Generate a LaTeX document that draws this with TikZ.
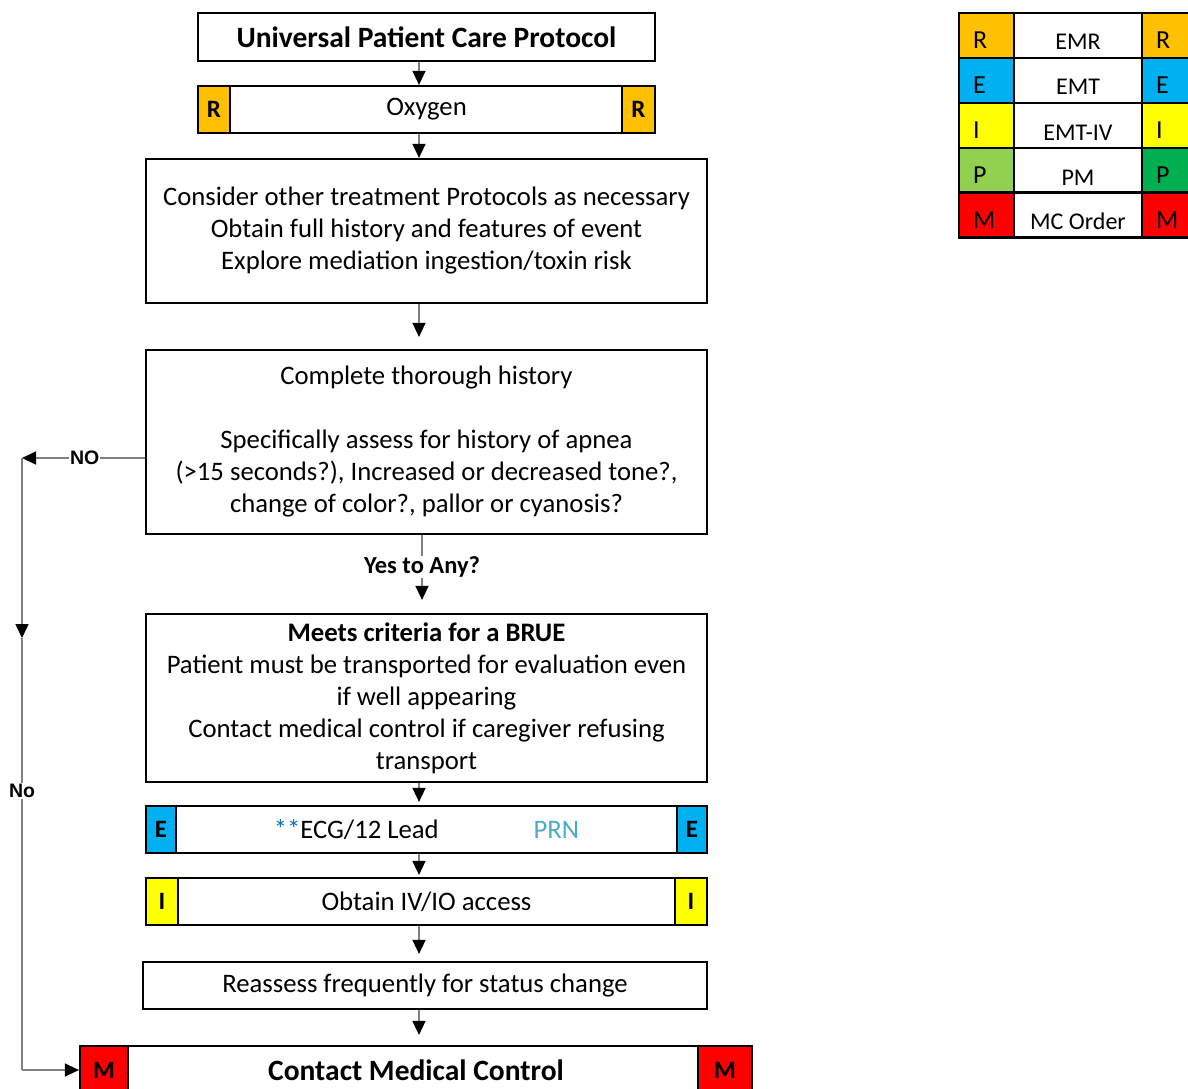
\documentclass[tikz,border=0pt]{standalone}
\usepackage{fontspec}
\setmainfont{Carlito}
\newfontfamily\arialfont{Liberation Sans}
\usetikzlibrary{arrows.meta}
\definecolor{cR}{HTML}{FFC000}
\definecolor{cE}{HTML}{00B0F0}
\definecolor{cI}{HTML}{FFFF00}
\definecolor{cPl}{HTML}{92D050}
\definecolor{cPr}{HTML}{00B050}
\definecolor{cM}{HTML}{FF0000}
\definecolor{lnk}{HTML}{808080}
\definecolor{starblue}{HTML}{0070C0}
\definecolor{prnblue}{HTML}{4BACC6}
\begin{document}
\begin{tikzpicture}[x=1pt,y=-1pt,
  box/.style={draw=black,fill=white,line width=2.2pt,inner sep=0pt,align=center,
    font=\fontsize{26.7}{32}\selectfont},
  cell/.style={draw=black,line width=2.2pt,inner sep=0pt,
    font=\bfseries\fontsize{25}{28}\selectfont},
  lcell/.style={draw=black,line width=2.2pt,inner sep=0pt,minimum width=55pt,
    minimum height=45pt,font=\fontsize{26}{28}\selectfont,text width=27pt,align=left},
  mcell/.style={draw=black,fill=white,line width=2.2pt,inner sep=0pt,minimum width=128pt,
    minimum height=45pt,font=\fontsize{24}{26}\selectfont},
  conn/.style={draw=lnk,line width=1.5pt,-{Triangle[length=14pt,width=13pt,black]}},
  plain/.style={draw=lnk,line width=1.5pt},
  yn/.style={fill=white,inner sep=1pt,font=\arialfont\bfseries\fontsize{19.5}{22}\selectfont},
]
\useasboundingbox (0,0) rectangle (1188,1089);

% main column
\node[box,minimum width=457pt,minimum height=48pt,font=\bfseries\fontsize{29.5}{32}\selectfont]
  (title) at (426.5,37) {Universal Patient Care Protocol};

\node[box,minimum width=457pt,minimum height=47pt] (oxy) at (426.5,109.5) {Oxygen};
\node[cell,fill=cR,minimum width=32pt,minimum height=47pt] (oxL) at (214,109.5) {R};
\node[cell,fill=cR,minimum width=33pt,minimum height=47pt] (oxR) at (638.5,109.5) {R};

\node[box,minimum width=561pt,minimum height=144pt] (b3) at (426.5,231)
  {Consider other treatment Protocols as necessary\\
   Obtain full history and features of event\\
   Explore mediation ingestion/toxin risk};

\node[box,minimum width=561pt,minimum height=184pt] (b4) at (426.5,442)
  {Complete thorough history\\[32pt]
   Specifically assess for history of apnea\\
   (>15 seconds?), Increased or decreased tone?,\\
   change of color?, pallor or cyanosis?};

\node[box,minimum width=561pt,minimum height=168pt] (b5) at (426.5,698)
  {\textbf{Meets criteria for a BRUE}\\
   Patient must be transported for evaluation even\\
   if well appearing\\
   Contact medical control if caregiver refusing\\
   transport};

\node[box,minimum width=561pt,minimum height=47pt] (ecg) at (426.5,829.5)
  {{\color{starblue}**}ECG/12 Lead\hspace{95pt}{\color{prnblue}PRN}};
\node[cell,fill=cE,minimum width=30pt,minimum height=47pt] (ecgL) at (161,829.5) {E};
\node[cell,fill=cE,minimum width=30pt,minimum height=47pt] (ecgR) at (692,829.5) {E};

\node[box,minimum width=561pt,minimum height=47pt] (iv) at (426.5,901.5) {Obtain IV/IO access};
\node[cell,fill=cI,minimum width=32pt,minimum height=47pt] (ivL) at (162,901.5) {I};
\node[cell,fill=cI,minimum width=32pt,minimum height=47pt] (ivR) at (691,901.5) {I};

\node[box,minimum width=564pt,minimum height=47pt] (re) at (425,985.5)
  {Reassess frequently for status change};

\node[box,minimum width=672pt,minimum height=48pt,font=\bfseries\fontsize{29.5}{32}\selectfont]
  (mc) at (416,1070) {Contact Medical Control};
\node[cell,fill=cM,minimum width=48pt,minimum height=48pt] (mcL) at (104,1070) {M};
\node[cell,fill=cM,minimum width=54pt,minimum height=48pt] (mcR) at (725,1070) {M};

% connector guides
\coordinate (ax) at (419,0);
\coordinate (ay) at (422,0);
\coordinate (nc) at (22,458);
\coordinate (nm) at (22,638);
\coordinate (nb) at (22,1070);

\draw[conn] (title.south -| ax) -- (oxy.north -| ax);
\draw[conn] (oxy.south -| ax) -- (b3.north -| ax);
\draw[conn,shorten >=12pt] (b3.south -| ax) -- (b4.north -| ax);
\draw[conn,shorten >=13pt] (b4.south -| ay) --
  node[pos=0.41,fill=white,inner sep=1pt,font=\bfseries\fontsize{24.5}{26}\selectfont] {Yes to Any?}
  (b5.north -| ay);
\draw[conn,shorten >=3pt] (b5.south -| ax) -- (ecg.north -| ax);
\draw[conn,shorten >=2pt] (ecg.south -| ax) -- (iv.north -| ax);
\draw[conn,shorten >=7pt] (iv.south -| ax) -- (re.north -| ax);
\draw[conn,shorten >=10pt] (re.south -| ax) -- (mc.north -| ax);

% NO branch
\draw[conn] (b4.west |- nc) -- node[pos=0.49,yn] {NO} (nc);
\draw[conn] (nc) -- (nm);
\draw[plain] (nm) -- node[pos=0.354,yn] {No} (nb);
\draw[conn] (nb) -- (mcL.west);

% legend
\foreach \y/\c/\d/\l/\t [count=\i] in
  {35.5/cR/cR/R/EMR, 80.5/cE/cE/E/EMT, 125.5/cI/cI/I/EMT-IV, 170.5/cPl/cPr/P/PM, 215/cM/cM/M/MC Order}{
  \node[lcell,fill=\c] (lgL\i) at (986.5,\y) {\raisebox{-13pt}[0pt][0pt]{\l}};
  \node[mcell] (lgM\i) at (1078,\y) {\raisebox{-14.5pt}[0pt][0pt]{\t}};
  \node[lcell,fill=\d] (lgR\i) at (1169.5,\y) {\raisebox{-13pt}[0pt][0pt]{\l}};
}
\end{tikzpicture}
\end{document}
